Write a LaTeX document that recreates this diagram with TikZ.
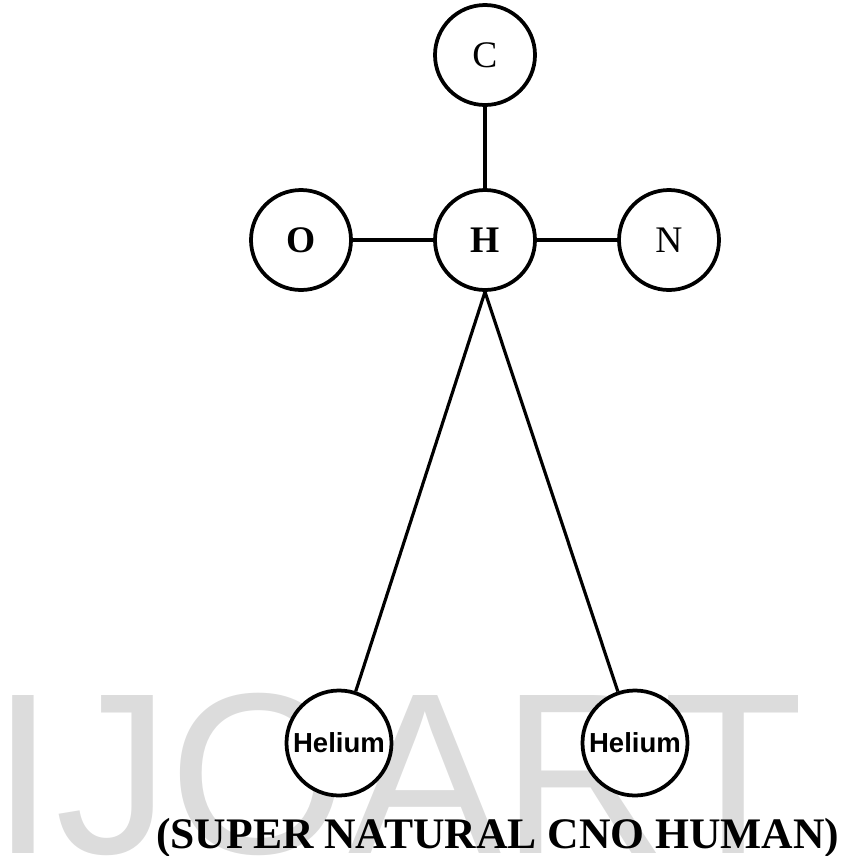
\documentclass[tikz,border=0pt]{standalone}
\usepackage{xcolor}
\usepackage{fontspec}
\setmainfont{Liberation Serif}
\newfontfamily\helfont{Liberation Sans}
\usetikzlibrary{calc}
\definecolor{wmark}{RGB}{220,220,220}

\begin{document}
\begin{tikzpicture}[x = 0.03cm, y = -0.03cm,
    atom/.style = {circle, draw, line width=3.2pt, fill=white, minimum size=3cm, inner sep=0pt},
    heatom/.style = {atom, minimum size=3.15cm},
    bond/.style = {line width=2.7pt}]

    \useasboundingbox (0,0) rectangle (843,856);

    % Watermark behind everything
    \node[anchor=base west, inner sep=0pt, text=wmark] (wm) at (-9,853)
        {\helfont\fontsize{196}{200}\selectfont IJOART};

    % Draw the atoms
    \node[atom] (C) at (485,55) {\fontsize{32}{36}\selectfont C};
    \node[atom] (O) at (301,240) {\fontsize{32}{36}\selectfont\bfseries O};
    \node[atom] (H) at (485,240) {\fontsize{32}{36}\selectfont\bfseries H};
    \node[atom] (N) at (669,240) {\fontsize{32}{36}\selectfont N};
    \node[heatom] (heL) at (339,743) {\helfont\bfseries\fontsize{23.5}{26}\selectfont Helium};
    \node[heatom] (heR) at (635,743) {\helfont\bfseries\fontsize{23.5}{26}\selectfont Helium};

    % Draw the bonds
    \draw[bond] (C) -- (H);
    \draw[bond] (O) -- (H);
    \draw[bond] (H) -- (N);
    \draw[bond] (H.south) -- (heL);
    \draw[bond] (H.south) -- (heR);

    % Label the figure
    \node[anchor=base west, inner sep=0pt] (title) at (156,848)
        {\fontsize{37.2}{40}\selectfont\bfseries (SUPER NATURAL CNO HUMAN)};

\end{tikzpicture}
\end{document}
